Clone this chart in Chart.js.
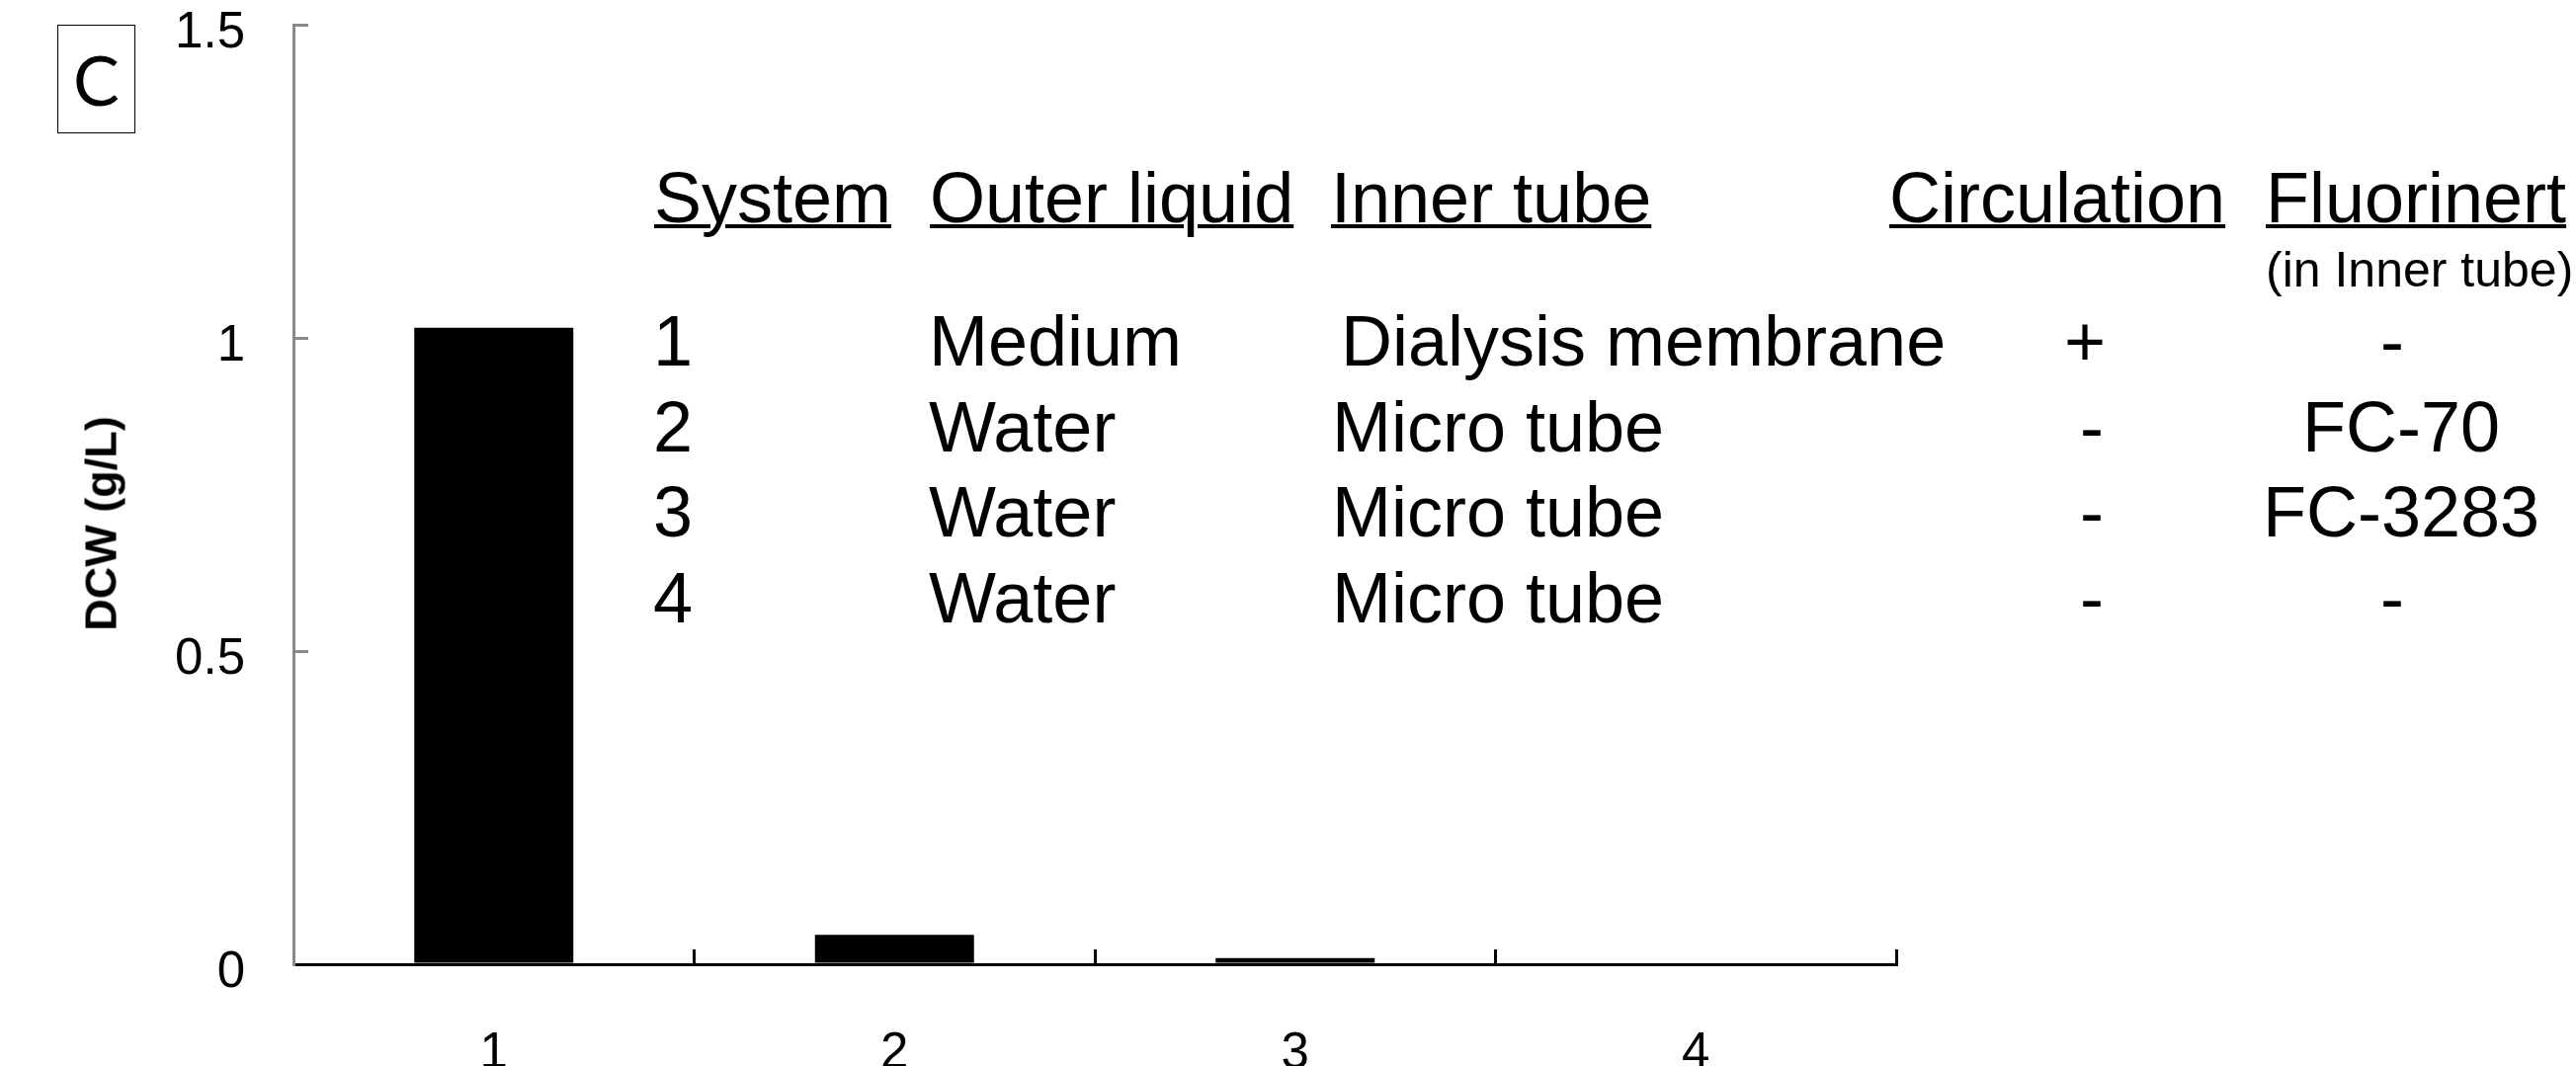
<!DOCTYPE html>
<html>
<head>
<meta charset="utf-8">
<script src="https://cdn.jsdelivr.net/npm/chart.js@4.4.1/dist/chart.umd.min.js"></script>
<style>
html,body{margin:0;padding:0;background:#fff;overflow:hidden;width:2607px;height:1079px;}
#wrap{position:relative;width:2607px;height:1090px;}
#c{position:absolute;left:0;top:0;}
.t{position:absolute;font-family:"Liberation Sans",Arial,sans-serif;color:#000;white-space:nowrap;line-height:1;}
.u{text-decoration:underline;text-decoration-thickness:4px;}
#panel{position:absolute;left:58px;top:25px;width:79px;height:110px;box-sizing:border-box;border:1.5px solid #000;
  font-family:Lato,"Open Sans",sans-serif;font-size:70px;display:flex;align-items:center;justify-content:center;color:#000;}
#ytitle{position:absolute;left:102px;top:530px;transform:translate(-50%,-50%) rotate(-90deg);
  font-family:"Liberation Sans",Arial,sans-serif;font-weight:bold;font-size:45px;line-height:1;white-space:nowrap;color:#000;}
</style>
</head>
<body>
<div id="wrap">
  <canvas id="c" width="2607" height="1090"></canvas>
  <div id="panel">C</div>
  <div id="ytitle"></div>
</div>
<script>
// ---- chart data ----
const categories = ['1', '2', '3', '4'];
const dcw = [1.016, 0.047, 0.01, 0];
const yTickValues = [0, 0.5, 1, 1.5];
const yTitle = 'DCW (g/L)';
document.getElementById('ytitle').textContent = yTitle;

// ---- table data ----
const headers = ['System', 'Outer liquid', 'Inner tube', 'Circulation', 'Fluorinert'];
const fluorinertNote = '(in Inner tube)';
const systems = ['1', '2', '3', '4'];
const outerLiquid = ['Medium', 'Water', 'Water', 'Water'];
const innerTube = ['Dialysis membrane', 'Micro tube', 'Micro tube', 'Micro tube'];
const circulation = ['+', '-', '-', '-'];
const fluorinert = ['-', 'FC-70', 'FC-3283', '-'];

// ---- table layout (pixel positions) ----
const FS = 72;
const headerBaseline = 225;
const rowBaselines = [370, 457, 543, 630];
const wrap = document.getElementById('wrap');
function place(text, x, baseline, fs, opts) {
  opts = opts || {};
  const d = document.createElement('div');
  d.className = 't' + (opts.underline ? ' u' : '');
  d.textContent = text;
  d.style.fontSize = fs + 'px';
  d.style.top = (baseline - 0.8465 * fs) + 'px';
  d.style.left = x + 'px';
  if (opts.center) d.style.transform = 'translateX(-50%)';
  wrap.appendChild(d);
}
const headerX = [662, 941, 1347, 1912, 2293];
headers.forEach((h, i) => place(h, headerX[i], headerBaseline, FS, {underline: true}));
place(fluorinertNote, 2293, 290, 50);
systems.forEach((s, i) => place(s, 661, rowBaselines[i], FS));
outerLiquid.forEach((s, i) => place(s, 940, rowBaselines[i], FS));
innerTube.forEach((s, i) => place(s, i === 0 ? 1357 : 1348, rowBaselines[i], FS));
circulation.forEach((s, i) => place(s, s === '+' ? 2110 : 2117, rowBaselines[i], FS, {center: true}));
fluorinert.forEach((s, i) => place(s, s === '-' ? 2421 : 2430, rowBaselines[i], FS, {center: true}));

// ---- chart ----
const tickFont = {family: '"Liberation Sans", Arial, sans-serif', size: 51};
new Chart(document.getElementById('c').getContext('2d'), {
  type: 'bar',
  data: {
    labels: categories,
    datasets: [{
      data: dcw,
      backgroundColor: '#000000',
      borderWidth: 0,
      barPercentage: 0.397,
      categoryPercentage: 1
    }]
  },
  options: {
    responsive: false,
    animation: false,
    devicePixelRatio: 1,
    layout: {padding: {left: 0, right: 688, top: 0, bottom: 0}},
    plugins: {legend: {display: false}, tooltip: {enabled: false}},
    scales: {
      x: {
        grid: {offset: true, drawOnChartArea: false, drawTicks: true, tickLength: -15, color: '#000', lineWidth: 3},
        border: {color: '#000', width: 3},
        ticks: {padding: 75, color: '#000', font: tickFont, maxRotation: 0},
        afterFit(s) { s.height = 114; s.paddingLeft = 0; s.paddingRight = 0; }
      },
      y: {
        min: 0, max: 1.5,
        afterBuildTicks(s) { s.ticks = yTickValues.map(v => ({value: v})); },
        grid: {drawOnChartArea: false, drawTicks: true, tickLength: -15, color: '#898989', lineWidth: 3},
        border: {color: '#898989', width: 3},
        ticks: {padding: 64, labelOffset: 9, color: '#000', font: tickFont, callback: v => String(v)},
        afterFit(s) { s.width = 297; s.paddingTop = 25; s.paddingBottom = 0; }
      }
    }
  }
});
</script>
</body>
</html>
